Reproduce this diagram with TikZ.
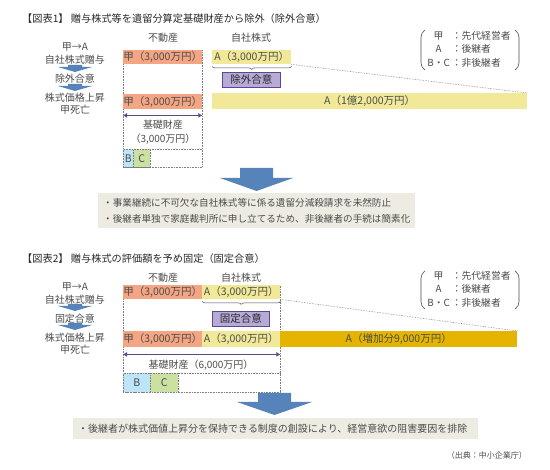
\documentclass[tikz,border=0pt]{standalone}
\usepackage{fontspec}
\setmainfont{Noto Sans CJK JP}
\usetikzlibrary{arrows.meta,decorations.pathreplacing,positioning}
\definecolor{TxtGray}{RGB}{75,75,75}
\definecolor{TitleGray}{RGB}{40,40,40}
\definecolor{EstateOrange}{RGB}{244,166,132}
\definecolor{StockYellow}{RGB}{241,233,152}
\definecolor{RiseGold}{RGB}{228,180,0}
\definecolor{AgreePurple}{RGB}{184,170,214}
\definecolor{AgreeDark}{RGB}{88,74,140}
\definecolor{ArrowBlue}{RGB}{86,131,186}
\definecolor{NoteBeige}{RGB}{238,236,226}
\definecolor{HeirBlue}{RGB}{190,228,248}
\definecolor{HeirGreen}{RGB}{202,225,162}
\definecolor{DotGray}{RGB}{125,125,125}
\tikzset{
  lbl/.style={text=TxtGray,font=\fontsize{10}{12}\selectfont,inner sep=0pt},
  ttl/.style={lbl,text=TitleGray,font=\fontsize{10.2}{12}\selectfont,anchor=west},
  cell/.style={lbl,anchor=north west,minimum height=14pt,font=\fontsize{10.5}{12}\selectfont},
  agree/.style={cell,fill=AgreePurple,draw=AgreeDark,line width=0.7pt,
    minimum height=15pt,text=TitleGray},
  heir/.style={cell,draw=DotGray,densely dotted,line width=0.6pt,minimum height=18pt},
  dotline/.style={DotGray,densely dotted,line width=0.6pt},
  basespan/.style={<->,AgreeDark,line width=1.6pt},
  brc/.style={decorate,decoration={brace,amplitude=3pt},TxtGray,line width=0.5pt},
  paren/.style={TxtGray,line width=0.6pt,rounded corners=4pt},
  note/.style={lbl,anchor=north west,fill=NoteBeige,align=left,inner xsep=5pt},
  legend/.style={lbl,font=\fontsize{9.8}{13.5}\selectfont}
}
\begin{document}
\begin{tikzpicture}[x=1pt,y=-1pt,>={Latex[length=4pt,width=5pt]}]
  \useasboundingbox (0,0) rectangle (550,470);
  % ---- 図表1
  \node[ttl] (ttl1) at (22,19) {【図表1】\ 贈与株式等を遺留分算定基礎財産から除外（除外合意）};
  \node[lbl] (fd1) at (163,38) {不動産};
  \node[lbl] (js1) at (251,38) {自社株式};
  \node[lbl] (s1a) at (75,47) {甲→A};
  \node[lbl] (s1b) at (75,60) {自社株式贈与};
  \node[lbl] (s1c) at (75,79) {除外合意};
  \node[lbl] (s1d) at (75,98) {株式価格上昇};
  \node[lbl] (s1e) at (75,110) {甲死亡};
  \draw[dotline] (123,50) rectangle (202,167);
  \draw[dotline] (123,149) -- (202,149);
  \node[cell,fill=EstateOrange,minimum width=79pt] (ko1) at (123,50) {甲（3,000万円）};
  \node[cell,fill=StockYellow,minimum width=79pt] (a1) at (212,50) {A（3,000万円）};
  \node[agree,minimum width=58pt] (gi1) at (222,72) {除外合意};
  \node[cell,fill=EstateOrange,minimum width=79pt,minimum height=15pt] (ko2) at (123,94) {甲（3,000万円）};
  \node[cell,fill=StockYellow,minimum width=315pt,minimum height=16pt] (big1) at (212,93) {A（1億2,000万円）};
  \node[lbl,align=center,font=\fontsize{10}{14}\selectfont] (kiso1) at (163,132) {基礎財産\\（3,000万円）};
  \node[heir,fill=HeirBlue,minimum width=10pt] (b1) at (123,149) {B};
  \node[heir,fill=HeirGreen,minimum width=17pt] (c1) at (133,149) {C};
  \draw[brc] ([yshift=-2pt]a1.south east) -- ([yshift=-2pt]a1.south west);
  \draw[dotline] (a1.south east) -- (big1.north east);
  \draw[basespan] ([yshift=-6pt]ko2.south west) -- ([yshift=-6pt]ko2.south east);
  \draw[paren] (425,30) -- (421,33) -- (421,67) -- (425,70);
  \draw[paren] (515,30) -- (519,33) -- (519,67) -- (515,70);
  \node[legend] (key1) at (469,50) {\begin{tabular}{@{}c@{\hspace{2pt}}l@{}}甲&：先代経営者\\A&：後継者\\B・C&：非後継者\end{tabular}};
  \fill[ArrowBlue] (240,168) -- (273,168) -- (273,178) -- (293,178) -- (256.5,191)
    -- (220,178) -- (240,178) -- cycle;
  \node[note,text width=307pt,minimum height=35pt,font=\fontsize{9.6}{16}\selectfont] (n1) at (98,193)
    {・事業継続に不可欠な自社株式等に係る遺留分減殺請求を未然防止\\
     ・後継者単独で家庭裁判所に申し立てるため、非後継者の手続は簡素化};
  % ---- 図表2
  \node[ttl] (ttl2) at (22,259) {【図表2】\ 贈与株式の評価額を予め固定（固定合意）};
  \node[lbl] (fd2) at (163,278) {不動産};
  \node[lbl] (js2) at (241,278) {自社株式};
  \node[lbl] (s2a) at (75,287) {甲→A};
  \node[lbl] (s2b) at (75,300) {自社株式贈与};
  \node[lbl] (s2c) at (75,319) {固定合意};
  \node[lbl] (s2d) at (75,338) {株式価格上昇};
  \node[lbl] (s2e) at (75,350) {甲死亡};
  \foreach \y in {65,84,304,323}
    \fill[ArrowBlue] (68,\y) -- (82,\y) -- (82,\y+2) -- (92,\y+2) -- (75,\y+7)
      -- (58,\y+2) -- (68,\y+2) -- cycle;
  \draw[dotline] (123,285) rectangle (280,392);
  \draw[dotline] (123,373) -- (280,373);
  \node[cell,fill=EstateOrange,minimum width=79pt] (ko3) at (123,285) {甲（3,000万円）};
  \node[cell,fill=StockYellow,minimum width=78pt] (a2) at (202,285) {A（3,000万円）};
  \node[agree,minimum width=57pt] (gi2) at (212,311) {固定合意};
  \node[cell,fill=EstateOrange,minimum width=79pt,minimum height=16pt] (ko4) at (123,331) {甲（3,000万円）};
  \node[cell,fill=StockYellow,minimum width=78pt,minimum height=16pt] (a3) at (202,331) {A（3,000万円）};
  \node[cell,fill=RiseGold,minimum width=237pt,minimum height=16pt] (big2) at (280,331) {A（増加分9,000万円）};
  \node[lbl] (kiso2) at (201,365) {基礎財産（6,000万円）};
  \node[heir,fill=HeirBlue,minimum width=27pt,minimum height=19pt] (b2) at (123,373) {B};
  \node[heir,fill=HeirGreen,minimum width=28pt,minimum height=19pt] (c2) at (150,373) {C};
  \draw[brc] ([yshift=-2pt]a2.south east) -- ([yshift=-2pt]a2.south west);
  \draw[dotline] (a2.south east) -- (big2.north east);
  \draw[basespan] ([yshift=-7pt]ko4.south west) -- ([yshift=-7pt]a3.south east);
  \draw[paren] (425,271) -- (421,274) -- (421,306) -- (425,309);
  \draw[paren] (515,271) -- (519,274) -- (519,306) -- (515,309);
  \node[legend] (key2) at (469,290) {\begin{tabular}{@{}c@{\hspace{2pt}}l@{}}甲&：先代経営者\\A&：後継者\\B・C&：非後継者\end{tabular}};
  \fill[ArrowBlue] (258,393) -- (291,393) -- (291,402) -- (312,402) -- (274.5,415)
    -- (237,402) -- (258,402) -- cycle;
  \node[note,text width=395pt,minimum height=21pt,font=\fontsize{10}{12}\selectfont] (n2) at (73,418)
    {・後継者が株式価値上昇分を保持できる制度の創設により、経営意欲の阻害要因を排除};
  \node[lbl,anchor=east,font=\fontsize{8}{10}\selectfont] (src) at (527,455) {（出典：中小企業庁）};
\end{tikzpicture}
\end{document}
